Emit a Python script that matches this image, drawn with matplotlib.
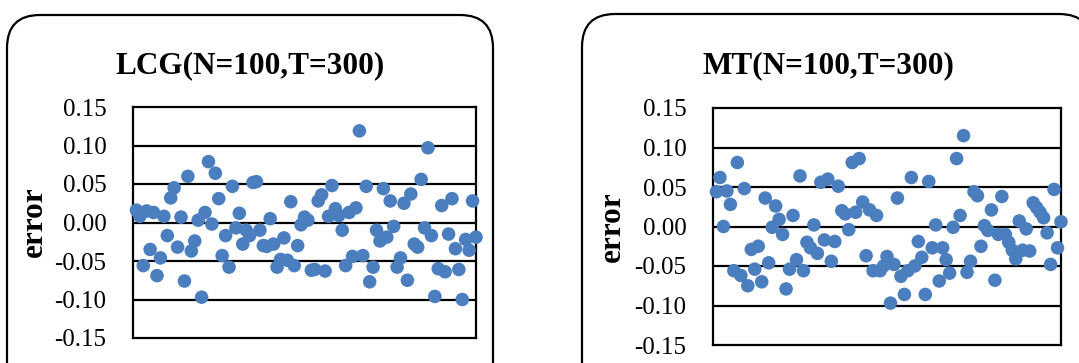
import matplotlib
matplotlib.use("Agg")
import matplotlib.pyplot as plt
from matplotlib.patches import FancyBboxPatch

plt.rcParams["font.family"] = ["Liberation Serif", "DejaVu Serif"]
plt.rcParams["axes.unicode_minus"] = False

# Error of each of the 100 runs
lcg_titles = "LCG(N=100,T=300)"
mt_titles = "MT(N=100,T=300)"

lcg_error = [
    0.016, 0.008, -0.056, 0.015, -0.035, 0.013, -0.069, -0.046, 0.008, -0.017,
    0.032, 0.045, -0.032, 0.007, -0.076, 0.060, -0.037, -0.024, 0.003, -0.097,
    0.013, 0.079, -0.002, 0.064, 0.031, -0.043, -0.017, -0.058, 0.047, -0.007,
    0.012, -0.028, -0.010, -0.017, 0.052, 0.053, -0.010, -0.030, -0.031, 0.005,
    -0.028, -0.058, -0.048, -0.020, -0.049, 0.027, -0.056, -0.030, -0.003, 0.007,
    0.003, -0.062, -0.061, 0.028, 0.036, -0.063, 0.008, 0.048, 0.018, 0.009,
    -0.010, -0.056, 0.013, -0.044, 0.019, 0.119, -0.043, 0.047, -0.077, -0.058,
    -0.010, -0.024, 0.044, -0.019, 0.028, -0.005, -0.058, -0.046, 0.025, -0.075,
    0.037, -0.028, -0.032, 0.056, -0.007, 0.097, -0.017, -0.096, -0.060, 0.022,
    -0.064, -0.015, 0.031, -0.034, -0.061, -0.100, -0.022, -0.036, 0.028, -0.019,
]

mt_error = [
    0.044, 0.062, 0.000, 0.045, 0.028, -0.056, 0.081, -0.062, 0.048, -0.075,
    -0.029, -0.054, -0.025, -0.070, 0.036, -0.046, -0.001, 0.026, 0.009, -0.010,
    -0.079, -0.054, 0.014, -0.042, 0.064, -0.056, -0.020, -0.027, 0.002, -0.034,
    0.056, -0.017, 0.060, -0.044, -0.019, 0.051, 0.020, 0.016, -0.004, 0.081,
    0.018, 0.086, 0.031, -0.037, 0.021, -0.056, 0.014, -0.056, -0.050, -0.038,
    -0.097, -0.048, 0.036, -0.063, -0.086, -0.056, 0.062, -0.050, -0.019, -0.039,
    -0.086, 0.057, -0.027, 0.002, -0.069, -0.027, -0.042, -0.059, -0.001, 0.086,
    0.014, 0.115, -0.058, -0.044, 0.044, 0.039, -0.025, 0.001, -0.005, 0.021,
    -0.068, -0.010, 0.038, -0.010, -0.020, -0.030, -0.041, 0.007, -0.030, -0.003,
    -0.031, 0.030, 0.024, 0.018, 0.011, -0.008, -0.048, 0.047, -0.027, 0.006,
]

run_index = list(range(1, 101))
y_ticks = [-0.15, -0.10, -0.05, 0.00, 0.05, 0.10, 0.15]
y_tick_labels = ["-0.15", "-0.10", "-0.05", "0.00", "0.05", "0.10", "0.15"]

W, H = 1079, 363
fig = plt.figure(figsize=(W / 100, H / 100), dpi=100)

# rounded chart frames (in inches so corners stay circular)
for x0, x1, top in [(0.07, 4.93, 3.48), (5.82, 10.92, 3.49)]:
    box = FancyBboxPatch((x0 + 0.33, -1.0), (x1 - x0) - 0.66, top - 0.33 + 1.0,
                         boxstyle="round,pad=0.33", transform=fig.dpi_scale_trans,
                         facecolor="white", edgecolor="black", linewidth=1.6,
                         zorder=-1)
    fig.patches.append(box)


def panel(rect, values, title, title_xy, ylabel_xy):
    ax = fig.add_axes(rect)
    ax.set_xlim(0, 100)
    ax.set_ylim(-0.15, 0.15)
    ax.set_xticks([])
    ax.set_yticks(y_ticks)
    ax.set_yticklabels(y_tick_labels, fontsize=18)
    ax.tick_params(axis="y", length=0, pad=19)
    for yv in [-0.10, -0.05, 0.0, 0.05, 0.10]:
        ax.axhline(yv, color="black", linewidth=1.6, zorder=1)
    for s in ax.spines.values():
        s.set_linewidth(1.6)
        s.set_zorder(2)
    ax.scatter(run_index, values, s=95, color="#4A7EBF", edgecolors="none",
               zorder=3, clip_on=False)
    fig.text(title_xy[0] / W, 1 - title_xy[1] / H, title, fontsize=22.5,
             fontweight="bold", ha="center", va="center")
    fig.text(ylabel_xy[0] / W, 1 - ylabel_xy[1] / H, "error", fontsize=22.5,
             fontweight="bold", rotation=90, ha="center", va="center")
    return ax


panel([133 / W, 1 - 338 / H, 343 / W, 231 / H], lcg_error, lcg_titles,
      (250, 66), (34, 222))
panel([713 / W, 1 - 345 / H, 348 / W, 237 / H], mt_error, mt_titles,
      (828, 66), (612, 227))

fig.savefig("out.png", dpi=100)
